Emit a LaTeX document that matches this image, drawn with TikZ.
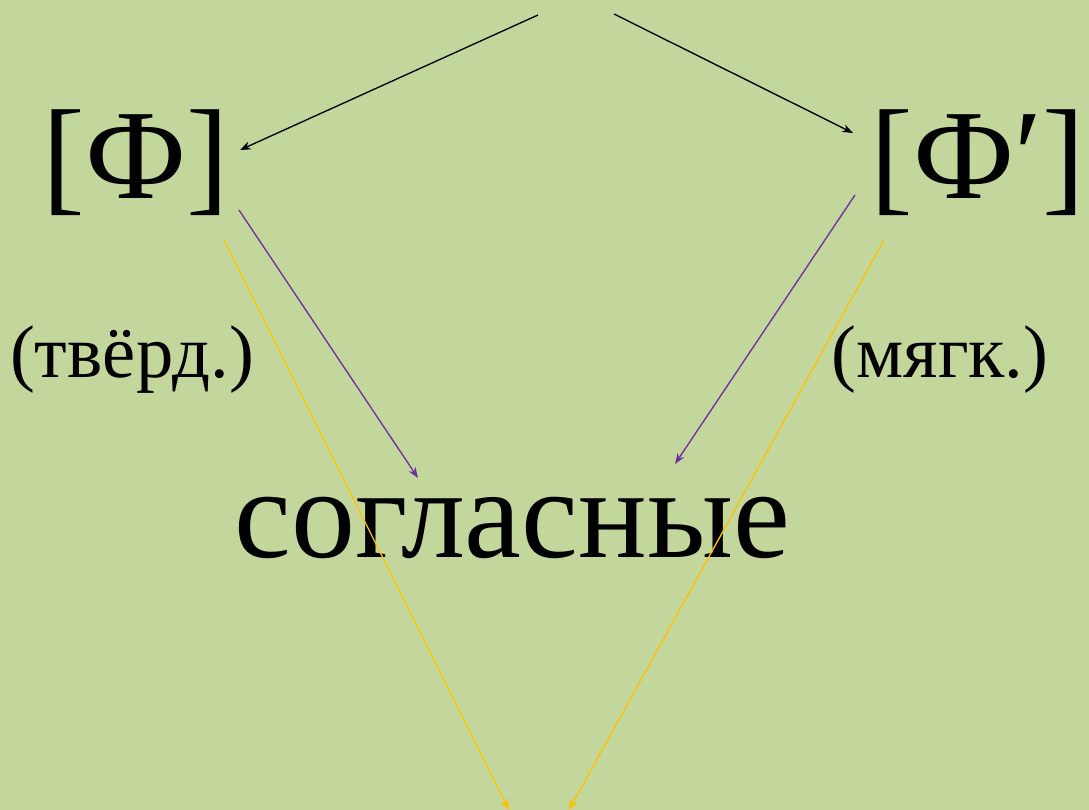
\documentclass[tikz,border=0pt]{standalone}
\usepackage{fontspec}
\setmainfont{Liberation Serif}
\usetikzlibrary{arrows.meta}
\definecolor{bg}{HTML}{C3D69B}
\definecolor{purp}{HTML}{7030A0}
\definecolor{yel}{HTML}{FFC000}
\tikzset{
  big/.style={inner sep=0pt, anchor=base, font=\fontsize{96}{104}\selectfont},
  small/.style={inner sep=0pt, anchor=base, font=\fontsize{56}{62}\selectfont},
  conn/.style={line width=1pt, -{Stealth[length=8pt,width=6pt,inset=2.5pt]}},
}
\begin{document}
\begin{tikzpicture}[x=0.75pt,y=-0.75pt]
\fill[bg] (0,0) rectangle (1089,810);
\useasboundingbox (0,0) rectangle (1089,810);
\node[big] (hard) at (136,198) {[Ф]};
\node[big] (soft) at (978,198) {[Ф′]};
\node[small] (hardl) at (132,377) {(твёрд.)};
\node[small] (softl) at (940,377) {(мягк.)};
\node[big] (cons) at (512,557) {согласные};
\coordinate (t1) at (538,15);
\coordinate (t2) at (614,14);
\coordinate (h1) at (240,150);
\coordinate (s1) at (853,133);
\coordinate (h2) at (239,210);
\coordinate (c1) at (418,478);
\coordinate (s2) at (855,195);
\coordinate (c2) at (675,464);
\coordinate (h3) at (224,240);
\coordinate (b1) at (509,810);
\coordinate (s3) at (884,240);
\coordinate (b2) at (569,810);
\draw[conn, black] (t1) -- (h1);
\draw[conn, black] (t2) -- (s1);
\draw[conn, purp] (h2) -- (c1);
\draw[conn, purp] (s2) -- (c2);
\draw[conn, yel] (h3) -- (b1);
\draw[conn, yel] (s3) -- (b2);
\end{tikzpicture}
\end{document}
